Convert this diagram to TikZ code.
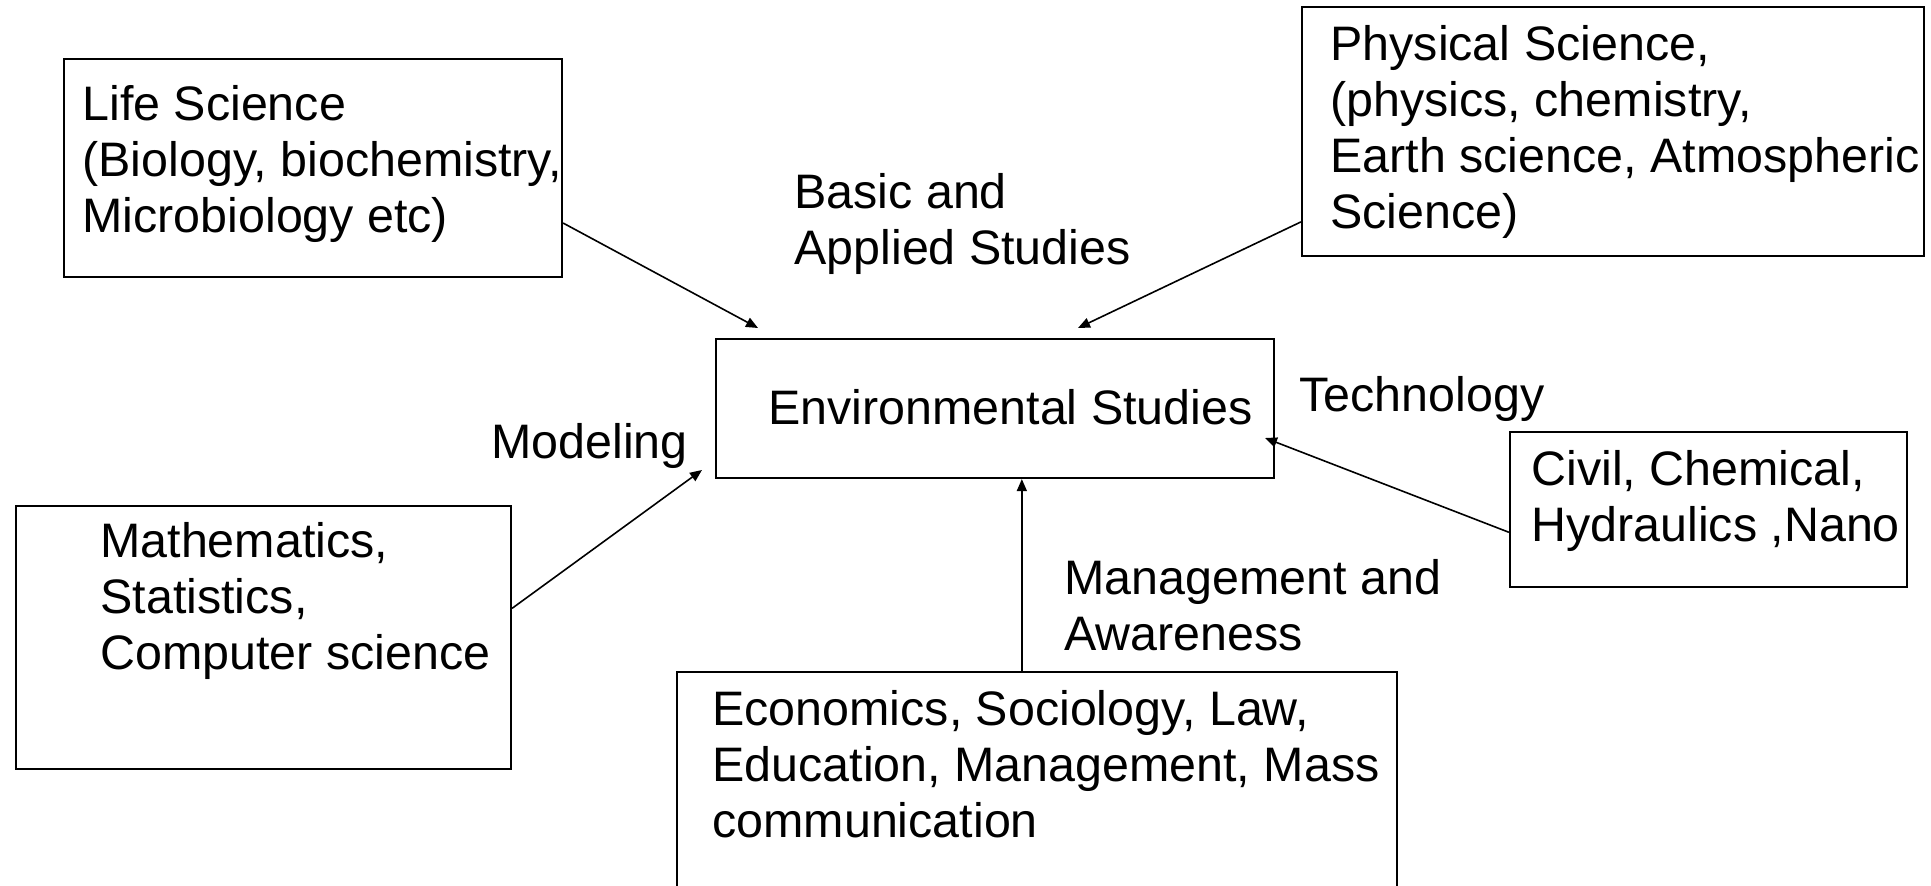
\documentclass[tikz,border=0pt]{standalone}
\usepackage{fontspec}
\setmainfont{Liberation Sans}
\usetikzlibrary{arrows.meta,calc,fit}
\begin{document}
\begin{tikzpicture}[x=0.5pt,y=-0.5pt,
    box/.style={draw, line width=1.1pt, inner sep=0pt},
    txt/.style={anchor=base west, align=left, inner sep=0pt,
      font=\fontsize{24.2}{28}\selectfont},
    link/.style={line width=0.8pt, -{Triangle[length=6pt,width=5pt]}}]
    \useasboundingbox (0,0) rectangle (1931,886);

    % Kaesten
    \node[box, fit={(64,59) (562,277)}] (life) {};
    \node[box, fit={(1302,7) (1924,256)}] (phys) {};
    \node[box, fit={(716,339) (1274,478)}] (env) {};
    \node[box, fit={(16,506) (511,769)}] (math) {};
    \node[box, fit={(1510,432) (1907,587)}] (civil) {};
    \node[box, fit={(677,672) (1397,900)}] (econ) {};

    % Texte in den Kaesten (Position = Grundlinie der letzten Zeile)
    \node[txt] (lifeText) at (82,233) {Life Science\\(Biology, biochemistry,\\Microbiology etc)};
    \node[txt] (physText) at (1330,229) {Physical Science,\\(physics, chemistry,\\Earth science, Atmospheric\\Science)};
    \node[txt] (envText) at (768,425) {Environmental Studies};
    \node[txt] (mathText) at (100,669) {Mathematics,\\Statistics,\\Computer science};
    \node[txt] (civilText) at (1531,542) {Civil, Chemical,\\Hydraulics ,Nano};
    \node[txt] (econText) at (712,837) {Economics, Sociology, Law,\\Education, Management, Mass\\communication};

    % Beschriftungen
    \node[txt] (basic) at (794,265) {Basic and\\Applied Studies};
    \node[txt] (modeling) at (491,459) {Modeling};
    \node[txt] (techno) at (1299,412) {Technology};
    \node[txt] (manage) at (1064,650) {Management and\\Awareness};

    % Pfeile
    \coordinate (lifeTip) at (758,328);
    \coordinate (physTip) at (1078,328);
    \coordinate (mathTip) at (702,470);
    \coordinate (civilTip) at (1265,438);
    \coordinate (econTop) at ($(econ.north west)!0.479!(econ.north east)$);
    \draw[link] ($(life.north east)!0.75!(life.south east)$) -- (lifeTip);
    \draw[link] ($(phys.north west)!0.86!(phys.south west)$) -- (physTip);
    \draw[link] ($(math.north east)!0.39!(math.south east)$) -- (mathTip);
    \draw[link] ($(civil.north west)!0.645!(civil.south west)$) -- (civilTip);
    \draw[link] (econTop) -- (econTop |- env.south);
\end{tikzpicture}
\end{document}
